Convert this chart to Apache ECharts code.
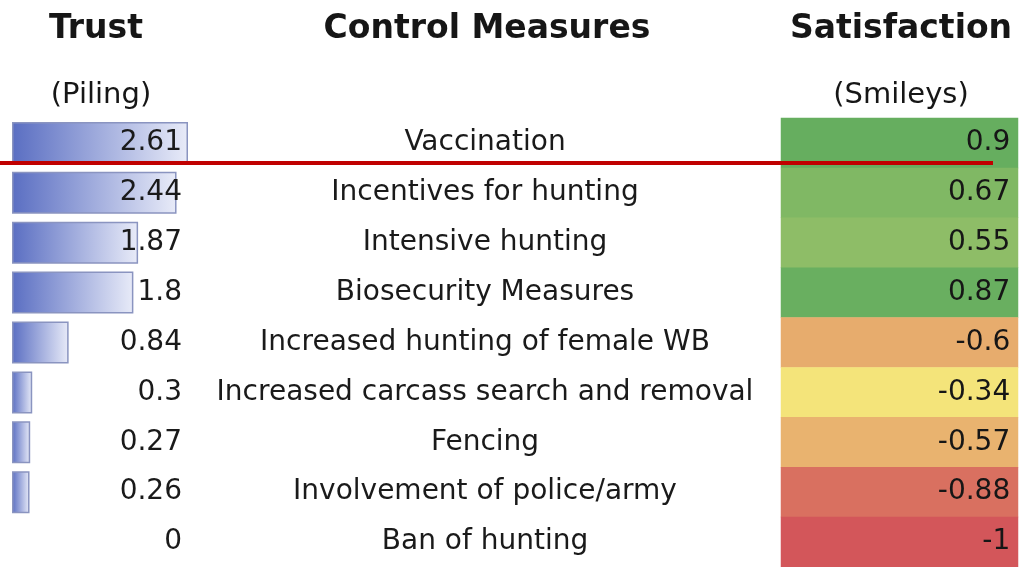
<!DOCTYPE html>
<html>
  <head>
    <meta charset="utf-8" />
    <title>Control Measures</title>
    <script src="https://cdn.jsdelivr.net/npm/echarts@6/dist/echarts.min.js"></script>
  </head>
  <body style="margin:0;background:#fff;">
    <div id="main" style="width: 1020px;height:567px;"></div>
    <script type="text/javascript">
      var measures = [
        'Vaccination',
        'Incentives for hunting',
        'Intensive hunting',
        'Biosecurity Measures',
        'Increased hunting of female WB',
        'Increased carcass search and removal',
        'Fencing',
        'Involvement of police/army',
        'Ban of hunting'
      ];
      var trust = [2.61, 2.44, 1.87, 1.8, 0.84, 0.3, 0.27, 0.26, 0];
      var satisfaction = [0.9, 0.67, 0.55, 0.87, -0.6, -0.34, -0.57, -0.88, -1];

      var FONT = 'DejaVu Sans';

      // excel-style 3 colour scale: min red, median yellow, max green
      function hexToRgb(h) {
        return [parseInt(h.substr(1, 2), 16), parseInt(h.substr(3, 2), 16), parseInt(h.substr(5, 2), 16)];
      }
      function mix(a, b, t) {
        var ca = hexToRgb(a), cb = hexToRgb(b);
        var r = [];
        for (var i = 0; i < 3; i++) r.push(Math.round(ca[i] + (cb[i] - ca[i]) * t));
        return 'rgb(' + r.join(',') + ')';
      }
      var sorted = satisfaction.slice().sort(function (a, b) { return a - b; });
      var sMin = sorted[0], sMax = sorted[sorted.length - 1];
      var sMid = sorted[Math.floor(sorted.length / 2)];
      function scaleColor(v) {
        if (v <= sMid) return mix('#d3565a', '#f4e47a', (v - sMin) / (sMid - sMin));
        return mix('#f4e47a', '#66ae5f', (v - sMid) / (sMax - sMid));
      }

      var heatData = satisfaction.map(function (v, i) {
        return { value: [0, i, v], itemStyle: { color: scaleColor(v) } };
      });
      // no outline for an empty bar
      var barData = trust.map(function (v) {
        return v === 0 ? { value: v, itemStyle: { borderWidth: 0 } } : v;
      });

      var myChart = echarts.init(document.getElementById('main'));

      var titleStyle = { fontFamily: FONT, fontSize: 33, fontWeight: 'bold', color: '#161616' };
      var subStyle = { fontFamily: FONT, fontSize: 29, fontWeight: 'normal', color: '#161616' };

      var option = {
        animation: false,
        backgroundColor: '#ffffff',
        title: [
          { text: 'Trust', left: 91, top: 8, textAlign: 'center', textStyle: titleStyle },
          { text: 'Control Measures', left: 482, top: 8, textAlign: 'center', textStyle: titleStyle },
          { text: 'Satisfaction', left: 896, top: 8, textAlign: 'center', textStyle: titleStyle },
          { text: '(Piling)', left: 96, top: 76, textAlign: 'center', textStyle: subStyle },
          { text: '(Smileys)', left: 896, top: 76, textAlign: 'center', textStyle: subStyle }
        ],
        grid: [
          { left: 12, top: 118, width: 176, height: 450 },
          { left: 781, top: 118, width: 237, height: 450 }
        ],
        xAxis: [
          { gridIndex: 0, type: 'value', min: 0, max: 'dataMax', show: false },
          { gridIndex: 1, type: 'category', data: ['Satisfaction'], show: false }
        ],
        yAxis: [
          {
            gridIndex: 0, type: 'category', data: measures, inverse: true,
            position: 'right', z: 10,
            axisLine: { show: false }, axisTick: { show: false }, splitLine: { show: false },
            axisLabel: {
              inside: true, margin: 6, fontFamily: FONT, fontSize: 28, color: '#1a1a1a',
              formatter: function (v, i) { return String(trust[i]); }
            }
          },
          {
            gridIndex: 1, type: 'category', data: measures, inverse: true,
            axisLine: { show: false }, axisTick: { show: false }, splitLine: { show: false },
            axisLabel: {
              margin: 296, align: 'center', fontFamily: FONT, fontSize: 28, color: '#1a1a1a'
            }
          }
        ],
        series: [
          {
            type: 'bar', xAxisIndex: 0, yAxisIndex: 0,
            data: barData, barWidth: 42,
            itemStyle: {
              color: new echarts.graphic.LinearGradient(0, 0, 1, 0, [
                { offset: 0, color: '#5a6ec2' },
                { offset: 1, color: '#e8ebf8' }
              ]),
              borderColor: '#8a94c0', borderWidth: 1.5
            }
          },
          {
            type: 'heatmap', xAxisIndex: 1, yAxisIndex: 1,
            data: heatData,
            label: {
              show: true, position: 'insideRight', distance: 8,
              fontFamily: FONT, fontSize: 28, color: '#161616',
              formatter: function (p) { return String(p.value[2]); }
            }
          }
        ],
        graphic: [
          {
            type: 'line', z: 100,
            shape: { x1: 0, y1: 163, x2: 993, y2: 163 },
            style: { stroke: '#c00000', lineWidth: 4 }
          }
        ]
      };

      myChart.setOption(option);
    </script>
  </body>
</html>
